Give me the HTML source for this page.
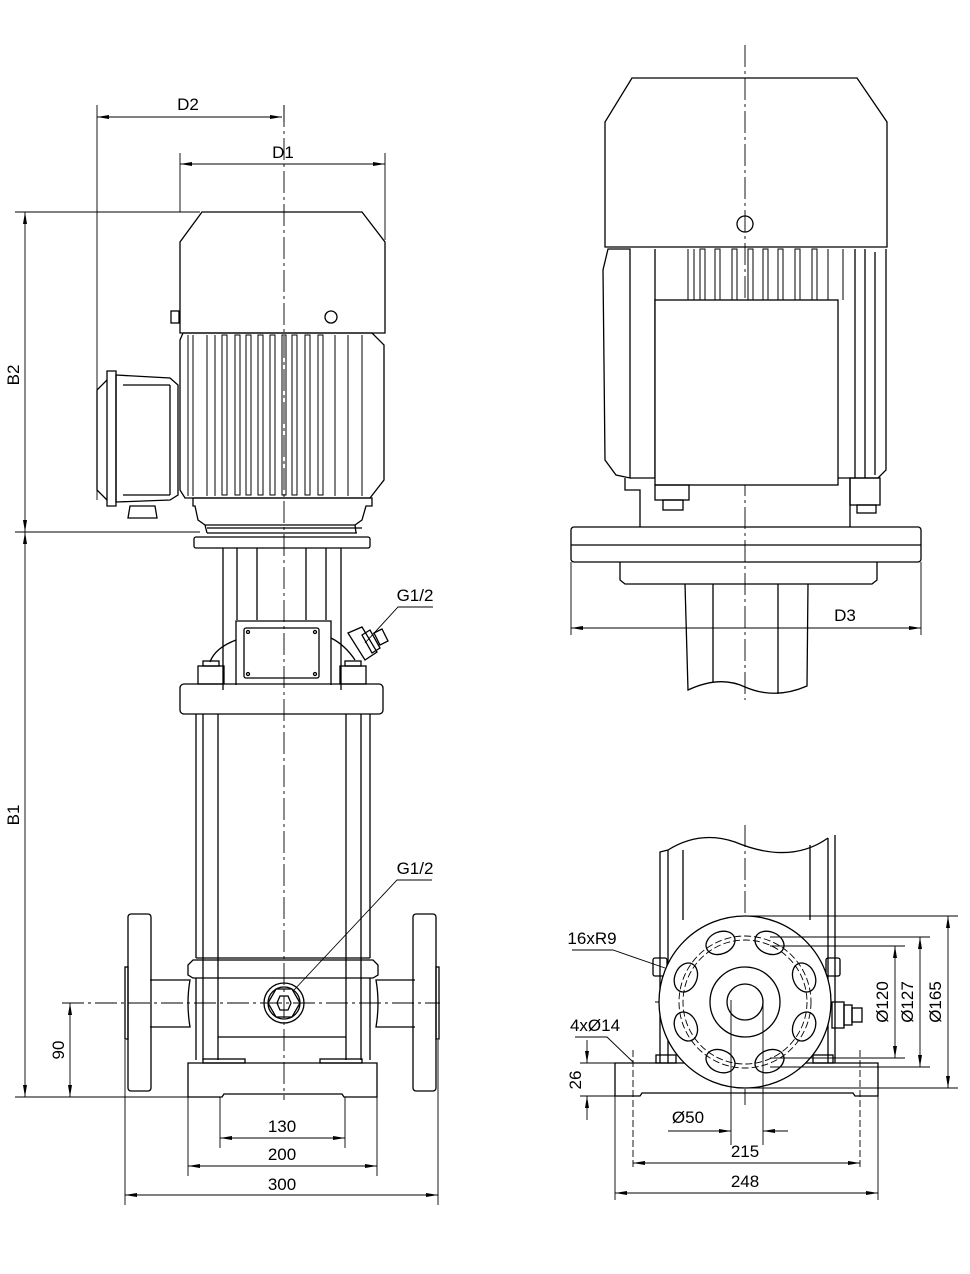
<!DOCTYPE html>
<html><head><meta charset="utf-8"><style>
html,body{margin:0;padding:0;background:#fff}
svg{display:block}
text{font-family:"Liberation Sans Narrow","Liberation Sans",sans-serif;font-size:17px;fill:#000}
</style></head><body>
<svg width="970" height="1274" viewBox="0 0 970 1274" xmlns="http://www.w3.org/2000/svg">
<defs>
<marker id="a" viewBox="0 0 12 4" refX="12" refY="2" markerWidth="12" markerHeight="4" orient="auto-start-reverse" markerUnits="userSpaceOnUse"><path d="M0,0 L12,2 L0,4 Z" fill="#000"/></marker>
</defs>
<g fill="none" stroke="#000" stroke-width="1.3">
<!-- centre lines -->
<g stroke-width="0.9" stroke-dasharray="22,4,3,4">
<line x1="284" y1="105" x2="284" y2="1100"/>
<line x1="745" y1="45" x2="745" y2="700"/>
<line x1="745" y1="825" x2="745" y2="1105"/>
<line x1="62" y1="1003" x2="440" y2="1003"/>
<line x1="655" y1="1002" x2="835" y2="1002"/>
</g>
<!-- ===== LEFT VIEW ===== -->
<!-- dimension lines -->
<g stroke-width="0.9">
<line x1="97" y1="105" x2="97" y2="500"/>
<line x1="284" y1="105" x2="284" y2="122"/>
<line x1="97" y1="117" x2="282" y2="117" marker-start="url(#a)" marker-end="url(#a)"/>
<line x1="180" y1="153" x2="180" y2="212"/>
<line x1="385" y1="153" x2="385" y2="240"/>
<line x1="180" y1="164" x2="385" y2="164" marker-start="url(#a)" marker-end="url(#a)"/>
<line x1="15" y1="212" x2="200" y2="212"/>
<line x1="15" y1="532" x2="200" y2="532"/>
<line x1="15" y1="1097" x2="190" y2="1097"/>
<line x1="25" y1="212" x2="25" y2="532" marker-start="url(#a)" marker-end="url(#a)"/>
<line x1="25" y1="532" x2="25" y2="1097" marker-start="url(#a)" marker-end="url(#a)"/>
<line x1="70" y1="1003" x2="70" y2="1097" marker-start="url(#a)" marker-end="url(#a)"/>
<line x1="220" y1="1097" x2="220" y2="1148"/>
<line x1="345" y1="1097" x2="345" y2="1148"/>
<line x1="188" y1="1097" x2="188" y2="1176"/>
<line x1="377" y1="1097" x2="377" y2="1176"/>
<line x1="125" y1="1040" x2="125" y2="1205"/>
<line x1="438" y1="1040" x2="438" y2="1205"/>
<line x1="220" y1="1138" x2="345" y2="1138" marker-start="url(#a)" marker-end="url(#a)"/>
<line x1="188" y1="1166" x2="377" y2="1166" marker-start="url(#a)" marker-end="url(#a)"/>
<line x1="125" y1="1195" x2="438" y2="1195" marker-start="url(#a)" marker-end="url(#a)"/>
<polyline points="294,990 397,880 432,880"/>
<polyline points="365,643 398,607 433,607"/>
</g>
<!-- fan cover -->
<path d="M202,212 L362,212 L385,242 L385,333 L180,333 L180,242 Z"/>
<circle cx="331" cy="317" r="6"/>
<rect x="171" y="311" width="8" height="12"/>
<!-- motor body -->
<path d="M183,333 L372,333 L384,345 L384,480 L370,498 L185,498 L180,490 L180,340 Z"/>
<g stroke-width="1">
<line x1="188" y1="335" x2="188" y2="496"/><line x1="193" y1="335" x2="193" y2="496"/>
<line x1="207" y1="335" x2="207" y2="496"/><line x1="215" y1="335" x2="215" y2="496"/>
<rect x="222" y="335" width="5" height="160"/><rect x="235" y="335" width="5" height="160"/>
<rect x="246" y="335" width="5" height="160"/><rect x="258" y="335" width="5" height="160"/>
<rect x="270" y="335" width="5" height="160"/><rect x="282" y="335" width="4" height="160"/>
<rect x="292" y="335" width="5" height="160"/><rect x="305" y="335" width="5" height="160"/>
<rect x="318" y="335" width="5" height="160"/>
<line x1="335" y1="335" x2="335" y2="496"/><line x1="348" y1="335" x2="348" y2="496"/>
<line x1="362" y1="335" x2="362" y2="496"/>
</g>
<!-- terminal box -->
<path d="M107,371 L116,371 L116,506 L107,506 Z"/>
<path d="M107,380 L97,390 L97,490 L107,500"/>
<path d="M116,375 L170,378 L178,385 L178,495 L170,500 L116,502 Z"/>
<line x1="123" y1="385" x2="170" y2="385"/><line x1="123" y1="495" x2="170" y2="495"/>
<line x1="170" y1="385" x2="170" y2="495"/>
<path d="M130,506 L155,506 L157,518 L128,518 Z"/>
<!-- motor flange -->
<path d="M193,498 L372,498 L372,506 L366,506 L362,520 L355,525 L205,525 L198,520 L195,506 L193,506 Z"/>
<line x1="207" y1="528" x2="362" y2="528"/>
<line x1="205" y1="525" x2="207" y2="533"/><line x1="355" y1="525" x2="356" y2="533"/>
<line x1="207" y1="533" x2="357" y2="533"/>
<rect x="194" y="537" width="176" height="11" rx="2"/>
<!-- shafts -->
<line x1="223" y1="548" x2="223" y2="690"/><line x1="237" y1="548" x2="237" y2="620"/>
<line x1="257" y1="548" x2="257" y2="620"/><line x1="306" y1="548" x2="306" y2="620"/>
<line x1="326" y1="548" x2="326" y2="620"/><line x1="341" y1="548" x2="341" y2="690"/>
<!-- head -->
<path d="M236,685 L236,621 L331,621 L331,685"/>
<rect x="244" y="628" width="75" height="50" rx="2"/>
<circle cx="248" cy="632" r="1.5"/><circle cx="315" cy="632" r="1.5"/>
<circle cx="248" cy="674" r="1.5"/><circle cx="315" cy="674" r="1.5"/>
<path d="M236,640 Q215,648 210,662"/><path d="M331,638 Q345,645 355,660"/>
<rect x="198" y="666" width="26" height="18"/><rect x="203" y="661" width="16" height="5"/>
<rect x="340" y="666" width="26" height="18"/><rect x="345" y="661" width="16" height="5"/>
<!-- valve -->
<path d="M348,633 L362,627 L377,652 L365,660 Z"/>
<path d="M362,635 L370,630 L380,648 L372,653 Z"/>
<path d="M374,633 L382,629 L388,641 L380,645 Z"/>
<!-- head flange -->
<rect x="180" y="684" width="203" height="30" rx="4"/>
<!-- column -->
<line x1="196" y1="714" x2="196" y2="958"/><line x1="203" y1="714" x2="203" y2="1060"/>
<line x1="218" y1="714" x2="218" y2="1060"/>
<line x1="346" y1="714" x2="346" y2="1060"/><line x1="361" y1="714" x2="361" y2="1060"/>
<line x1="370" y1="714" x2="370" y2="958"/>
<line x1="196" y1="958" x2="370" y2="958"/>
<!-- lower chamber -->
<path d="M193,960 L373,960 L378,965 L378,975 L373,978 L193,978 L188,975 L188,965 Z"/>
<line x1="196" y1="978" x2="196" y2="1060"/><line x1="370" y1="978" x2="370" y2="1060"/>
<line x1="218" y1="1037" x2="346" y2="1037"/>
<path d="M150,980 L190,980 Q186,1003 190,1027 L150,1027"/>
<path d="M415,980 L376,980 Q380,1003 376,1027 L415,1027"/>
<rect x="128" y="914" width="23" height="177" rx="3"/>
<rect x="413" y="914" width="23" height="177" rx="3"/>
<rect x="125" y="967" width="3" height="72"/><rect x="436" y="967" width="3" height="72"/>
<!-- drain plug -->
<circle cx="284" cy="1003" r="20"/><circle cx="284" cy="1003" r="16"/>
<polygon points="300,1003 292,989 276,989 268,1003 276,1017 292,1017"/>
<polygon points="291,1003 288,996 280,996 277,1003 280,1010 288,1010"/>
<!-- base -->
<path d="M188,1063 L377,1063 L377,1097 L344,1097 L342,1094 L224,1094 L222,1097 L188,1097 Z"/>
<rect x="203" y="1059" width="42" height="4"/><rect x="320" y="1059" width="42" height="4"/>

<!-- ===== RIGHT TOP VIEW ===== -->
<path d="M632,78 L857,78 L887,122 L887,247 L605,247 L605,122 Z"/>
<ellipse cx="745" cy="224" rx="8" ry="8"/>
<path d="M608,249 L630,249 L630,478 L616,475 L605,460 L603,270 Z"/>
<path d="M886,249 L886,470 L878,478 L855,478 L855,249"/>
<line x1="865" y1="249" x2="865" y2="478"/><line x1="875" y1="252" x2="875" y2="475"/>
<line x1="655" y1="249" x2="655" y2="478"/><line x1="630" y1="478" x2="855" y2="478"/>
<g stroke-width="1">
<line x1="688" y1="249" x2="688" y2="300"/><line x1="694" y1="249" x2="694" y2="300"/>
<rect x="700" y="249" width="5" height="51"/><rect x="715" y="249" width="5" height="51"/>
<rect x="732" y="249" width="5" height="51"/><rect x="748" y="249" width="5" height="51"/>
<rect x="763" y="249" width="5" height="51"/><rect x="778" y="249" width="5" height="51"/>
<rect x="795" y="249" width="5" height="51"/><rect x="812" y="249" width="5" height="51"/>
<line x1="828" y1="249" x2="828" y2="300"/><line x1="843" y1="249" x2="843" y2="300"/>
</g>
<rect x="655" y="300" width="183" height="185" fill="#fff"/>
<path d="M625,478 L625,490 L640,490 L640,527"/><path d="M850,478 L850,527"/>
<rect x="655" y="485" width="34" height="15"/><rect x="850" y="478" width="30" height="27"/>
<rect x="663" y="500" width="20" height="10"/><rect x="857" y="505" width="19" height="8"/>
<rect x="571" y="527" width="350" height="35" rx="3"/>
<line x1="571" y1="545" x2="921" y2="545"/>
<path d="M620,562 L620,580 L625,584 L872,584 L877,580 L877,562"/>
<path d="M685,584 L688,690 Q720,675 745,687 Q775,700 807,686 L808,584"/>
<line x1="713" y1="584" x2="713" y2="682"/><line x1="778" y1="584" x2="778" y2="694"/>
<g stroke-width="0.9">
<line x1="571" y1="562" x2="571" y2="635"/><line x1="921" y1="562" x2="921" y2="635"/>
<line x1="571" y1="628" x2="921" y2="628" marker-start="url(#a)" marker-end="url(#a)"/>
</g>

<!-- ===== RIGHT BOTTOM VIEW ===== -->
<path d="M660,1063 L660,852 L668,850"/>
<line x1="668" y1="850" x2="668" y2="1063"/>
<path d="M668,850 Q700,830 735,842 Q790,865 828,838"/>
<line x1="828" y1="838" x2="828" y2="1063"/><line x1="835" y1="835" x2="835" y2="1063"/>
<line x1="683" y1="850" x2="683" y2="920"/><line x1="810" y1="845" x2="810" y2="920"/>
<rect x="653" y="958" width="14" height="18" rx="2"/><rect x="826" y="958" width="14" height="18" rx="2"/>
<rect x="656" y="1055" width="20" height="8"/><rect x="813" y="1055" width="20" height="8"/>
<path d="M615,1063 L878,1063 L878,1096 L855,1096 L853,1093 L642,1093 L640,1096 L615,1096 Z"/>
<circle cx="745" cy="1002" r="86" fill="#fff"/>
<circle cx="745" cy="1002" r="35"/><circle cx="745" cy="1002" r="18"/>
<g stroke-width="0.9" stroke-dasharray="7,3">
<circle cx="745" cy="1002" r="62"/><circle cx="745" cy="1002" r="66"/>
<line x1="633" y1="1050" x2="633" y2="1170"/><line x1="860" y1="1050" x2="860" y2="1170"/>
</g>
<g>
<ellipse cx="0" cy="0" rx="15" ry="11" transform="translate(745,1002) rotate(-67.5) translate(64,0) rotate(90)"/>
<ellipse cx="0" cy="0" rx="15" ry="11" transform="translate(745,1002) rotate(-22.5) translate(64,0) rotate(90)"/>
<ellipse cx="0" cy="0" rx="15" ry="11" transform="translate(745,1002) rotate(22.5) translate(64,0) rotate(90)"/>
<ellipse cx="0" cy="0" rx="15" ry="11" transform="translate(745,1002) rotate(67.5) translate(64,0) rotate(90)"/>
<ellipse cx="0" cy="0" rx="15" ry="11" transform="translate(745,1002) rotate(112.5) translate(64,0) rotate(90)"/>
<ellipse cx="0" cy="0" rx="15" ry="11" transform="translate(745,1002) rotate(157.5) translate(64,0) rotate(90)"/>
<ellipse cx="0" cy="0" rx="15" ry="11" transform="translate(745,1002) rotate(202.5) translate(64,0) rotate(90)"/>
<ellipse cx="0" cy="0" rx="15" ry="11" transform="translate(745,1002) rotate(247.5) translate(64,0) rotate(90)"/>
</g>
<rect x="832" y="1002" width="12" height="26"/><rect x="844" y="1005" width="8" height="20"/><rect x="852" y="1008" width="10" height="14"/>
<g stroke-width="0.9">
<line x1="745" y1="916" x2="958" y2="916"/><line x1="745" y1="1088" x2="958" y2="1088"/>
<line x1="770" y1="937" x2="930" y2="937"/><line x1="770" y1="1067" x2="930" y2="1067"/>
<line x1="770" y1="946" x2="905" y2="946"/><line x1="770" y1="1058" x2="905" y2="1058"/>
<line x1="948" y1="916" x2="948" y2="1088" marker-start="url(#a)" marker-end="url(#a)"/>
<line x1="920" y1="937" x2="920" y2="1067" marker-start="url(#a)" marker-end="url(#a)"/>
<line x1="895" y1="946" x2="895" y2="1058" marker-start="url(#a)" marker-end="url(#a)"/>
<polyline points="572,950 613,950 665,968"/>
<polyline points="575,1037 607,1037 633,1062"/>
<line x1="580" y1="1063" x2="615" y2="1063"/><line x1="580" y1="1096" x2="615" y2="1096"/>
<line x1="587" y1="1040" x2="587" y2="1063" marker-end="url(#a)"/>
<line x1="587" y1="1120" x2="587" y2="1096" marker-end="url(#a)"/>
<line x1="731" y1="1000" x2="731" y2="1145"/><line x1="763" y1="1000" x2="763" y2="1145"/>
<line x1="668" y1="1131" x2="731" y2="1131" marker-end="url(#a)"/>
<line x1="788" y1="1131" x2="763" y2="1131" marker-end="url(#a)"/>
<line x1="615" y1="1096" x2="615" y2="1200"/><line x1="878" y1="1096" x2="878" y2="1200"/>
<line x1="633" y1="1163" x2="860" y2="1163" marker-start="url(#a)" marker-end="url(#a)"/>
<line x1="615" y1="1193" x2="878" y2="1193" marker-start="url(#a)" marker-end="url(#a)"/>
</g>
</g>
<!-- labels -->
<text x="188" y="110" text-anchor="middle">D2</text>
<text x="283" y="158" text-anchor="middle">D1</text>
<text transform="translate(19,375) rotate(-90)" text-anchor="middle">B2</text>
<text transform="translate(19,815) rotate(-90)" text-anchor="middle">B1</text>
<text transform="translate(64,1050) rotate(-90)" text-anchor="middle">90</text>
<text x="415" y="601" text-anchor="middle">G1/2</text>
<text x="415" y="874" text-anchor="middle">G1/2</text>
<text x="282" y="1132" text-anchor="middle">130</text>
<text x="282" y="1160" text-anchor="middle">200</text>
<text x="282" y="1190" text-anchor="middle">300</text>
<text x="845" y="621" text-anchor="middle">D3</text>
<text x="592" y="944" text-anchor="middle">16xR9</text>
<text x="595" y="1031" text-anchor="middle">4xØ14</text>
<text transform="translate(581,1080) rotate(-90)" text-anchor="middle">26</text>
<text x="688" y="1123" text-anchor="middle">Ø50</text>
<text x="745" y="1157" text-anchor="middle">215</text>
<text x="745" y="1187" text-anchor="middle">248</text>
<text transform="translate(888,1002) rotate(-90)" text-anchor="middle">Ø120</text>
<text transform="translate(913,1002) rotate(-90)" text-anchor="middle">Ø127</text>
<text transform="translate(941,1002) rotate(-90)" text-anchor="middle">Ø165</text>
</svg>
</body></html>
